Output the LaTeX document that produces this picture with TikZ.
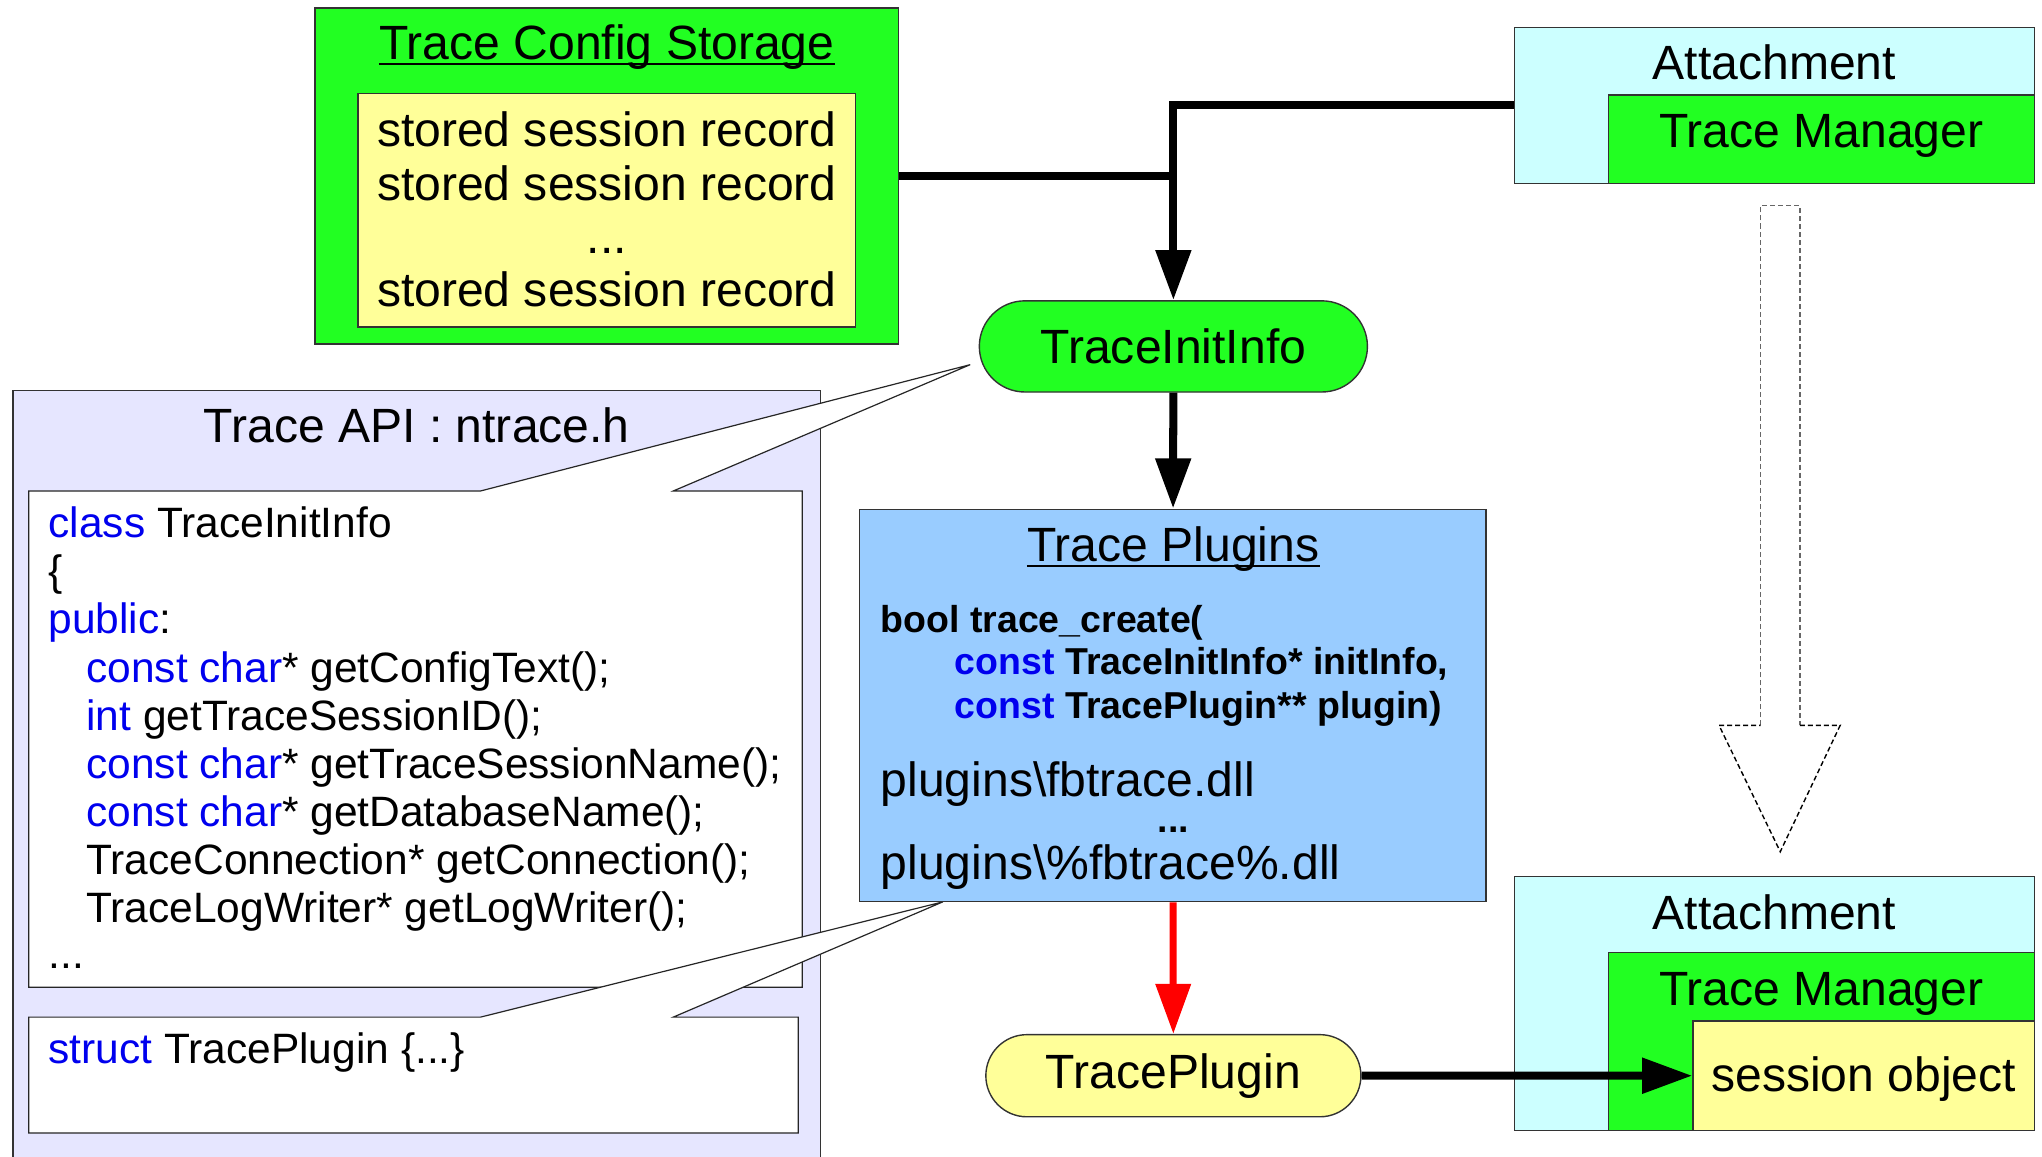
\documentclass[tikz,border=0pt]{standalone}
\usepackage{fontspec}
\setmainfont{Liberation Sans}
\usetikzlibrary{arrows.meta,shapes.misc,fit}
\definecolor{cfggreen}{HTML}{22FF22}
\definecolor{recyellow}{HTML}{FFFF99}
\definecolor{attcyan}{HTML}{CCFFFF}
\definecolor{apilav}{HTML}{E6E6FF}
\definecolor{plugblue}{HTML}{99CCFF}
\definecolor{kwblue}{HTML}{0000EE}
\newcommand{\lblfont}{\fontsize{24}{28}\selectfont}
\newcommand{\codefont}{\fontsize{21.2}{25}\selectfont}
\newcommand{\sigfont}{\fontsize{18.7}{22}\selectfont\bfseries}
\newcommand{\kw}[1]{\textcolor{kwblue}{#1}}
\newcommand{\threedots}{...}
\tikzset{>/.tip={Triangle[width=17pt,length=25pt]},
  box/.style={draw=black!80, line width=0.7pt, inner sep=0pt},
  pill/.style={rounded rectangle, draw=black!80, line width=0.7pt, inner sep=0pt, font=\lblfont},
  lbl/.style={inner sep=0pt, anchor=base, font=\lblfont},
  codeline/.style={inner sep=0pt, anchor=base west, font=\codefont},
  sigline/.style={inner sep=0pt, anchor=base west, font=\sigfont},
  callout/.style={draw=black!85, line width=0.6pt, fill=white},
  conn/.style={line width=4pt},
}

\begin{document}
\begin{tikzpicture}[x=0.65pt,y=-0.65pt]
\useasboundingbox (0,0) rectangle (1568,888);

% trace api header
\node (api) [box, fill=apilav, fit={(10,300) (630,900)}] {};
\node (apititle) [lbl] at (320,339.5) {Trace API : ntrace.h};
\path[callout] (22,377) -- (369,377) -- (745,280) -- (517,377) -- (616,377) -- (616,758) -- (22,758) -- cycle;
\path[callout] (22,781) -- (369,781) -- (724,692.5) -- (517,781) -- (613,781) -- (613,870) -- (22,870) -- cycle;
\foreach \t/\x/\y [count=\i] in {
  {\kw{class} TraceInitInfo}/37/413,
  {\{}/37/449.9,
  {\kw{public}:}/37/486.8,
  {\kw{const char}* getConfigText();}/66/523.7,
  {\kw{int} getTraceSessionID();}/66/560.6,
  {\kw{const char}* getTraceSessionName();}/66/597.5,
  {\kw{const char}* getDatabaseName();}/66/634.4,
  {TraceConnection* getConnection();}/66/671.3,
  {TraceLogWriter* getLogWriter();}/66/708.2,
  {\threedots}/37/744}
  \node (code\i) [codeline] at (\x,\y) {\t};
\node (struct) [codeline] at (37,817) {\kw{struct} TracePlugin \{\threedots\}};

% config storage
\node (config) [box, fill=cfggreen, fit={(242,6) (690,264)}] {};
\node (records) [box, fill=recyellow, fit={(275,72) (657,251)}] {};
\node (cfgtitle) [lbl] at (466,46) {Trace Config Storage};
\draw[line width=1pt] ([yshift=-2pt]cfgtitle.base west) -- ([yshift=-2pt]cfgtitle.base east);
\foreach \t/\y [count=\i] in {stored session record/112.6, stored session record/153.6, \threedots/194.6, stored session record/235.6}
  \node (rec\i) [lbl] at (466,\y) {\t};

% attachments
\node (attach1) [box, fill=attcyan, fit={(1163,21) (1562,141)}] {};
\node (tmgr1) [box, fill=cfggreen, fit={(1235,73) (1562,141)}] {};
\node (att1lbl) [lbl] at (1362.5,61.4) {Attachment};
\node (tm1lbl) [lbl] at (1398.5,113.4) {Trace Manager};

\node (attach2) [box, fill=attcyan, fit={(1163,673) (1562,868)}] {};
\node (tmgr2) [box, fill=cfggreen, fit={(1235,731.5) (1562,868)}] {};
\node (session) [box, fill=recyellow, fit={(1300,784) (1562,868)}] {};
\node (att2lbl) [lbl] at (1362.5,714) {Attachment};
\node (tm2lbl) [lbl] at (1398.5,771.7) {Trace Manager};
\node (sesslbl) [lbl] at (1431,838.3) {session object};

% hollow dashed arrow
\draw[dashed, dash pattern=on 2.5pt off 1.5pt, line width=0.7pt, black!60] (1352,557) -- (1352,158) -- (1382,158) -- (1382,557);
\draw[dashed, dash pattern=on 2.5pt off 1.5pt, line width=0.7pt] (1382,557) -- (1413,557) -- (1367,654) -- (1320,557) -- (1352,557);

% plugins
\node (initinfo) [pill, fill=cfggreen, minimum width=193.7pt, minimum height=45.5pt] at (901,266) {TraceInitInfo};
\node (plugins) [box, fill=plugblue, fit={(660,391) (1141,692.4)}] {};
\node (ptitle) [lbl] at (901,431.3) {Trace Plugins};
\draw[line width=1pt] ([yshift=-2pt]ptitle.base west) -- ([yshift=-2pt]ptitle.base east);
\node (sig1) [sigline] at (676,486) {bool trace\_create(};
\node (sig2) [sigline] at (733,518.3) {\kw{const} TraceInitInfo* initInfo,};
\node (sig3) [sigline] at (733,551.4) {\kw{const} TracePlugin** plugin)};
\node (dll1) [lbl, anchor=base west] at (676,611.7) {plugins\textbackslash fbtrace.dll};
\node (pdots) [inner sep=0pt, anchor=base, font=\sigfont] at (901,639) {\threedots};
\node (dll2) [lbl, anchor=base west] at (676,675.7) {plugins\textbackslash\%fbtrace\%.dll};
\node (traceplugin) [pill, fill=recyellow, minimum width=187.2pt, minimum height=41pt] at (901,826) {TracePlugin};

% connectors
\draw[conn] (config.east) -- (config.east -| initinfo.north);
\draw[conn,->] (attach1.west) -| (initinfo.north);
\draw[conn,->] (initinfo) -- (plugins);
\draw[conn,->,red,line width=3.5pt] (plugins) -- (traceplugin);
\draw[conn,->] (traceplugin) -- (session);
\end{tikzpicture}
\end{document}
